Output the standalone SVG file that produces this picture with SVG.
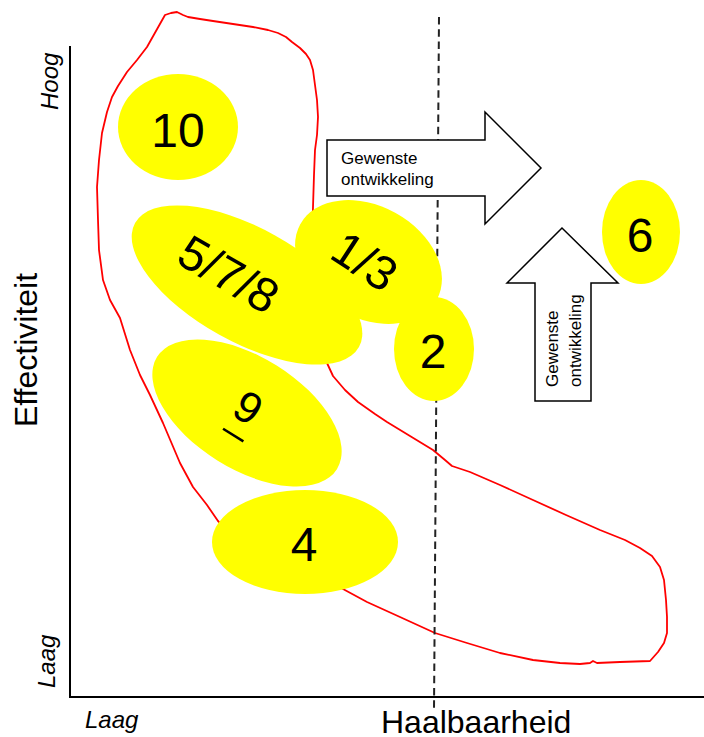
<svg xmlns="http://www.w3.org/2000/svg" width="704" height="737" viewBox="0 0 704 737">
<style>
.blob{fill:#FFFF00;stroke:none}
.num{font-family:"Liberation Sans",Arial,sans-serif;font-size:48px;fill:#000;text-anchor:middle}
.ax{font-family:"Liberation Sans",Arial,sans-serif;font-size:32px;fill:#000}
.lo{font-family:"Liberation Sans",Arial,sans-serif;font-size:24px;font-style:italic;fill:#000}
.arr{fill:#fff;stroke:#000;stroke-width:1.5}
.al{font-family:"Liberation Sans",Arial,sans-serif;font-size:17px;fill:#000}
</style>
<rect width="704" height="737" fill="#fff"/>
<g id="axes" stroke="#000" stroke-width="2" fill="none">
<line x1="70" y1="46" x2="70" y2="698"/>
<line x1="69" y1="697" x2="704" y2="697"/>
</g>
<g id="axis-labels">
<text class="ax" transform="translate(37,350) rotate(-90)" text-anchor="middle">Effectiviteit</text>
<text class="ax" x="381" y="733">Haalbaarheid</text>
<text class="lo" transform="translate(58,110) rotate(-90)">Hoog</text>
<text class="lo" transform="translate(55,688) rotate(-90)">Laag</text>
<text class="lo" x="85" y="728">Laag</text>
</g>
<g id="connectors">
<path id="red-boundary" fill="none" stroke="#FF0000" stroke-width="1.8" stroke-linejoin="round" d="M165,15 L171,13 L177,12 L183,15 L188,17 L200,19 L213,21 L233,24 L253,27 L268,30 L278,33 L286,37 L292,42 L300,48 L306,54 L310,60 L313,70 L315,85 L317,100 L318,117 L317,135 L315,150 L314,175 L313,207 L312,240 L314,290 L318,330 L323,352 L327,363 L333,376 L345,390 L358,402 L375,414 L387,422 L410,436 L433,450 L445,460 L452,466 L470,472 L500,485 L533,500 L566,515 L600,530 L625,540 L640,548 L652,556 L660,567 L664,580 L666,600 L667,617 L667,633 L664,643 L658,652 L650,661 L620,662 L597,663 L593,661 L590,663 L580,664 L560,663 L533,660 L500,653 L467,643 L435,633 L400,617 L367,602 L343,589 L300,568 L260,550 L230,533 L218,521 L207,505 L193,487 L180,463 L163,423 L150,395 L140,375 L130,350 L120,318 L110,300 L103,280 L99,250 L98,220 L97,187 L99,160 L102,133 L107,112 L112,97 L118,86 L127,72 L137,60 L147,47 L156,31 Z"/>
<line id="threshold" x1="439" y1="17" x2="434" y2="710" stroke="#222" stroke-width="2" stroke-dasharray="7.5 4.7"/>
</g>
<g id="arrow-right">
<path class="arr" d="M327,140 H485 V112 L541,168 L485,224 V196 H327 Z"/>
<text class="al" x="341" y="164">Gewenste</text>
<text class="al" x="341" y="185">ontwikkeling</text>
</g>
<g id="arrow-up">
<path class="arr" d="M535,401 V283 H507 L562,228 L618,283 H591 V401 Z"/>
<text class="al" transform="translate(558,387) rotate(-90)">Gewenste</text>
<text class="al" transform="translate(581,387) rotate(-90)">ontwikkeling</text>
</g>
<g id="node-10">
<ellipse class="blob" cx="178" cy="127" rx="60" ry="53"/>
<text class="num" x="178" y="147">10</text>
</g>
<g id="node-578">
<ellipse class="blob" cx="247" cy="285" rx="128" ry="57" transform="rotate(29 247 285)"/>
<text class="num" transform="translate(229,274) rotate(30)" x="0" y="17">5/7/8</text>
</g>
<g id="node-13">
<ellipse class="blob" cx="368.5" cy="262" rx="78" ry="56" transform="rotate(29 368.5 262)"/>
<text class="num" transform="translate(365,261) rotate(33)" x="0" y="17">1/3</text>
</g>
<g id="node-2">
<ellipse class="blob" cx="434" cy="349" rx="40" ry="52"/>
<text class="num" x="433" y="368">2</text>
</g>
<g id="node-6">
<ellipse class="blob" cx="641" cy="232" rx="39" ry="52"/>
<text class="num" x="640" y="252">6</text>
</g>
<g id="node-9">
<ellipse class="blob" cx="247" cy="413" rx="106" ry="56" transform="rotate(32 247 413)"/>
<g transform="translate(247,413) rotate(32)">
<text class="num" style="font-size:44px" x="-2" y="10">9</text>
<line x1="-12" y1="26" x2="12" y2="26" stroke="#000" stroke-width="2.5"/>
</g>
</g>
<g id="node-4">
<ellipse class="blob" cx="305" cy="542" rx="93" ry="52"/>
<text class="num" x="304" y="561">4</text>
</g>
</svg>
